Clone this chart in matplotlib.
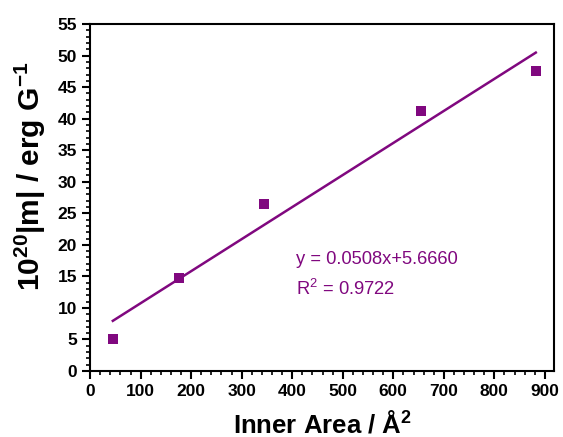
import numpy as np
import matplotlib
matplotlib.use("Agg")
from matplotlib import pyplot as plt
from matplotlib.ticker import MultipleLocator

plt.rcParams['font.family'] = ['Liberation Sans', 'DejaVu Sans']
plt.rcParams['mathtext.default'] = 'regular'

# data
area = [45, 175, 345, 655, 882]
moment = [5.0, 14.8, 26.5, 41.2, 47.6]
slope = 0.0508
intercept = 5.6660
r2 = 0.9722

purple = '#80087f'

fig = plt.figure(figsize=(5.63, 4.37), dpi=100)
ax = fig.add_axes([0.160, 0.151, 0.824, 0.794])

ax.scatter(area, moment, marker='s', s=42, color=purple, zorder=3, linewidths=0)
xfit = np.array([min(area), max(area)])
ax.plot(xfit, slope * xfit + intercept, color=purple, lw=1.8)

ax.text(407, 17.6, 'y = %.4fx+%.4f' % (slope, intercept), color=purple,
        fontsize=13.2, va='center')
ax.text(407, 13.0, 'R$^2$ = %.4f' % r2, color=purple, fontsize=13.2, va='center')

ax.set_xlim(0, 918)
ax.set_ylim(0, 55)
ax.xaxis.set_major_locator(MultipleLocator(100))
ax.xaxis.set_minor_locator(MultipleLocator(20))
ax.yaxis.set_major_locator(MultipleLocator(5))
ax.yaxis.set_minor_locator(MultipleLocator(1))

for s in ax.spines.values():
    s.set_linewidth(1.5)
ax.tick_params(which='major', direction='out', length=6, width=1.5, labelsize=12.5)
ax.tick_params(which='minor', direction='out', length=3, width=1.2)
for lab in ax.get_xticklabels() + ax.get_yticklabels():
    lab.set_fontweight('bold')

ax.set_xlabel('Inner Area / Å$^2$', fontsize=18.5, fontweight='bold', labelpad=8)
ax.set_ylabel('10$^{20}$|m| / erg G$^{-1}$', fontsize=21.5, fontweight='bold', labelpad=7)
ax.yaxis.label.set_y(0.56)

fig.savefig('out.png', dpi=100)
